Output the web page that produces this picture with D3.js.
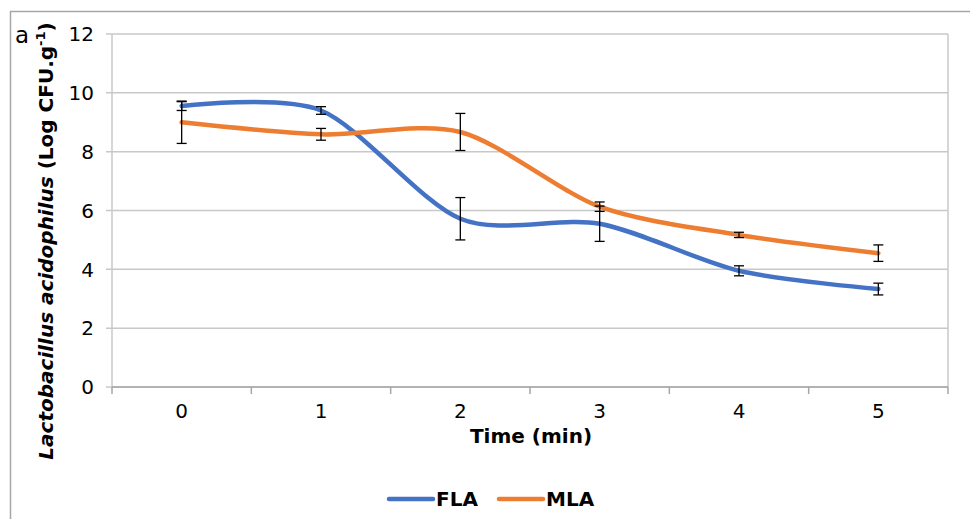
<!DOCTYPE html>
<html lang="en">
<head>
  <meta charset="UTF-8">
  <title>Lactobacillus acidophilus</title>
  <script src="https://d3js.org/d3.v7.min.js"></script>
  <style>
    body { margin: 0; background: #fff; }
    svg { display: block; font-family: "DejaVu Sans", sans-serif; }
    .grid line { stroke: #c8c8c8; stroke-width: 1.5px; }
    .tick-label { font-size: 20px; fill: #000; }
    .err { stroke: #000; stroke-width: 1.3px; }
  </style>
</head>
<body>
  <svg id="chart"></svg>

  <script>
    const width = 970;
    const height = 519;

    // data
    const times = ["0", "1", "2", "3", "4", "5"];
    const fla = [9.55, 9.40, 5.72, 5.55, 3.95, 3.33];
    const flaErr = [0.15, 0.13, 0.72, 0.60, 0.17, 0.20];
    const mla = [9.00, 8.59, 8.67, 6.13, 5.17, 4.55];
    const mlaErr = [0.72, 0.20, 0.63, 0.16, 0.09, 0.28];
    const yTicks = [0, 2, 4, 6, 8, 10, 12];

    const series = [
      { name: "FLA", values: fla, err: flaErr, color: "#4472C4" },
      { name: "MLA", values: mla, err: mlaErr, color: "#ED7D31" }
    ];

    const plot = { left: 112, right: 948, top: 34, bottom: 387 };

    const svg = d3.select("#chart").attr("width", width).attr("height", height);

    // outer chart frame
    svg.append("path")
      .attr("d", `M10.5,${height} L10.5,11.5 L${width},11.5`)
      .attr("fill", "none")
      .attr("stroke", "#a6a6a6")
      .attr("stroke-width", 1.5);

    const x = d3.scaleBand().domain(times).range([plot.left, plot.right]);
    const y = d3.scaleLinear().domain([0, 12]).range([plot.bottom, plot.top]);

    // gridlines
    const grid = svg.append("g").attr("class", "grid");
    grid.selectAll("line.h")
      .data(yTicks)
      .enter().append("line")
      .attr("x1", plot.left - 6)
      .attr("x2", plot.right)
      .attr("y1", d => y(d))
      .attr("y2", d => y(d));

    // left and right borders of plot area
    grid.append("line")
      .attr("x1", plot.left).attr("x2", plot.left)
      .attr("y1", plot.top).attr("y2", plot.bottom);
    grid.append("line")
      .attr("x1", plot.right).attr("x2", plot.right)
      .attr("y1", plot.top).attr("y2", plot.bottom);

    // x axis tick marks at band edges
    const edges = times.map(t => x(t)).concat([plot.right]);
    svg.append("g").selectAll("line")
      .data(edges)
      .enter().append("line")
      .attr("x1", d => d).attr("x2", d => d)
      .attr("y1", plot.bottom).attr("y2", plot.bottom + 7)
      .attr("stroke", "#a6a6a6")
      .attr("stroke-width", 1.5);
    svg.append("line")
      .attr("x1", plot.left).attr("x2", plot.right)
      .attr("y1", plot.bottom).attr("y2", plot.bottom)
      .attr("stroke", "#a6a6a6")
      .attr("stroke-width", 1.5);

    // y tick labels
    svg.append("g").selectAll("text")
      .data(yTicks)
      .enter().append("text")
      .attr("class", "tick-label")
      .attr("x", 94)
      .attr("y", d => y(d))
      .attr("dy", "0.36em")
      .attr("text-anchor", "end")
      .text(d => d);

    // x tick labels
    svg.append("g").selectAll("text")
      .data(times)
      .enter().append("text")
      .attr("class", "tick-label")
      .attr("x", d => x(d) + x.bandwidth() / 2)
      .attr("y", 418)
      .attr("text-anchor", "middle")
      .text(d => d);

    // smooth lines
    const line = d3.line()
      .x((d, i) => x(times[i]) + x.bandwidth() / 2)
      .y(d => y(d))
      .curve(d3.curveCardinal.tension(0.15));

    series.forEach(s => {
      svg.append("path")
        .datum(s.values)
        .attr("fill", "none")
        .attr("stroke", s.color)
        .attr("stroke-width", 4.5)
        .attr("stroke-linecap", "round")
        .attr("d", line);
    });

    // error bars
    series.forEach(s => {
      const g = svg.append("g");
      s.values.forEach((v, i) => {
        const cx = x(times[i]) + x.bandwidth() / 2;
        const hi = y(v + s.err[i]);
        const lo = y(v - s.err[i]);
        g.append("line").attr("class", "err")
          .attr("x1", cx).attr("x2", cx).attr("y1", hi).attr("y2", lo);
        [hi, lo].forEach(yy => {
          g.append("line").attr("class", "err")
            .attr("x1", cx - 5).attr("x2", cx + 5).attr("y1", yy).attr("y2", yy);
        });
      });
    });

    // panel letter
    svg.append("text")
      .attr("x", 15)
      .attr("y", 43)
      .attr("font-size", 23)
      .text("a");

    // y axis title
    const yTitle = svg.append("text")
      .attr("transform", "translate(53,241) rotate(-90)")
      .attr("text-anchor", "middle")
      .attr("font-size", 20)
      .attr("font-weight", "bold");
    yTitle.append("tspan").attr("font-style", "italic").text("Lactobacillus acidophilus");
    yTitle.append("tspan").text(" (Log CFU.g");
    yTitle.append("tspan").attr("font-size", 13).attr("dy", -8).text("-1");
    yTitle.append("tspan").attr("dy", 8).text(")");

    // x axis title
    svg.append("text")
      .attr("x", 531)
      .attr("y", 443)
      .attr("text-anchor", "middle")
      .attr("font-size", 20)
      .attr("font-weight", "bold")
      .text("Time (min)");

    // legend
    const legend = svg.append("g");
    const legendX = [389, 499];
    series.forEach((s, i) => {
      legend.append("line")
        .attr("x1", legendX[i]).attr("x2", legendX[i] + 44)
        .attr("y1", 499).attr("y2", 499)
        .attr("stroke", s.color)
        .attr("stroke-width", 4.5)
        .attr("stroke-linecap", "round");
      legend.append("text")
        .attr("x", legendX[i] + 47)
        .attr("y", 506)
        .attr("font-size", 20)
        .attr("font-weight", "bold")
        .text(s.name);
    });
  </script>
</body>
</html>
